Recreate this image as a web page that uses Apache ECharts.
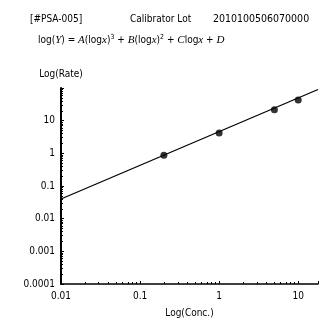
<!DOCTYPE html>
<html>
<head>
<meta charset="utf-8">
<script src="https://cdn.jsdelivr.net/npm/echarts@6/dist/echarts.min.js"></script>
<style>
  html, body { margin: 0; padding: 0; background: #fff; }
  #main { width: 321px; height: 323px; }
</style>
</head>
<body>
<div id="main"></div>
<script>
// calibrator points (conc, rate)
const concValues = [0.2, 1, 5, 10];
const rateValues = [0.87, 4.2, 21.5, 43];
// fitted curve (ends of the drawn line)
const fitConc = [0.01, 17.8];
const fitRate = [0.04, 90];
const yTickLabels = ["0.0001", "0.001", "0.01", "0.1", "1", "10"];
const xTickLabels = ["0.01", "0.1", "1", "10"];

const font = "'DejaVu Sans Condensed', 'Liberation Sans Narrow', 'Liberation Sans', sans-serif";

const myChart = echarts.init(document.getElementById("main"));

const fmt = (v) => String(Number(v.toPrecision(6)));

const headStyle = { fontFamily: font, fontSize: 10, fontWeight: "normal", color: "#000" };

const option = {
   animation: false,
   textStyle: { fontFamily: font, color: "#000" },
   title: [
      { text: "[#PSA-005]", left: 25, top: 9, textStyle: headStyle },
      { text: "Calibrator Lot", left: 125, top: 9, textStyle: headStyle },
      { text: "2010100506070000", left: 208, top: 9, textStyle: { ...headStyle, fontSize: 10.5 } },
      {
         text: "log({i|Y}) = {i|A}(log{i|x}){s|3} + {i|B}(log{i|x}){s|2} + {i|C}log{i|x} + {i|D}",
         left: 33,
         top: 29,
         textStyle: {
            fontFamily: font,
            fontSize: 10,
            fontWeight: "normal",
            color: "#000",
            rich: {
               i: { fontFamily: "'Liberation Serif', serif", fontSize: 11, fontStyle: "italic", color: "#000" },
               s: { fontFamily: font, fontSize: 7, verticalAlign: "top", color: "#000", padding: [0, 0, 5, 0] },
            },
         },
      },
   ],
   grid: {
      left: 61,
      right: 0,
      top: 88,
      bottom: 37,
   },
   xAxis: {
      type: "log",
      logBase: 10,
      min: 0.01,
      max: 17.8,
      name: "Log(Conc.)",
      nameLocation: "middle",
      nameGap: 24,
      nameTextStyle: { fontFamily: font, fontSize: 10, color: "#000" },
      axisLine: { lineStyle: { color: "#000", width: 1.5 } },
      axisTick: { show: true, length: 3, inside: true, lineStyle: { color: "#000" } },
      minorTick: { show: true, splitNumber: 9, length: 2, lineStyle: { color: "#000" } },
      splitLine: { show: false },
      axisLabel: {
         fontFamily: font,
         fontSize: 10,
         color: "#000",
         margin: 7,
         formatter: (v) => (xTickLabels.includes(fmt(v)) ? fmt(v) : ""),
      },
   },
   yAxis: {
      type: "log",
      logBase: 10,
      min: 0.0001,
      max: 100,
      name: "Log(Rate)",
      nameLocation: "end",
      nameGap: 9,
      nameTextStyle: { fontFamily: font, fontSize: 10, color: "#000", align: "center" },
      axisLine: { lineStyle: { color: "#000", width: 2 } },
      axisTick: { show: true, length: 3, inside: true, lineStyle: { color: "#000" } },
      minorTick: { show: true, splitNumber: 9, length: 2, lineStyle: { color: "#000" } },
      splitLine: { show: false },
      axisLabel: {
         fontFamily: font,
         fontSize: 10,
         color: "#000",
         margin: 6,
         formatter: (v) => (yTickLabels.includes(fmt(v)) ? fmt(v) : ""),
      },
   },
   series: [
      {
         name: "fit",
         type: "line",
         data: fitConc.map((c, i) => [c, fitRate[i]]),
         showSymbol: false,
         lineStyle: { color: "#000", width: 1.3 },
         clip: true,
         z: 2,
      },
      {
         name: "calibrators",
         type: "scatter",
         data: concValues.map((c, i) => [c, rateValues[i]]),
         symbol: "circle",
         symbolSize: 7,
         itemStyle: { color: "#000" },
         z: 3,
      },
   ],
};

myChart.setOption(option);
</script>
</body>
</html>
